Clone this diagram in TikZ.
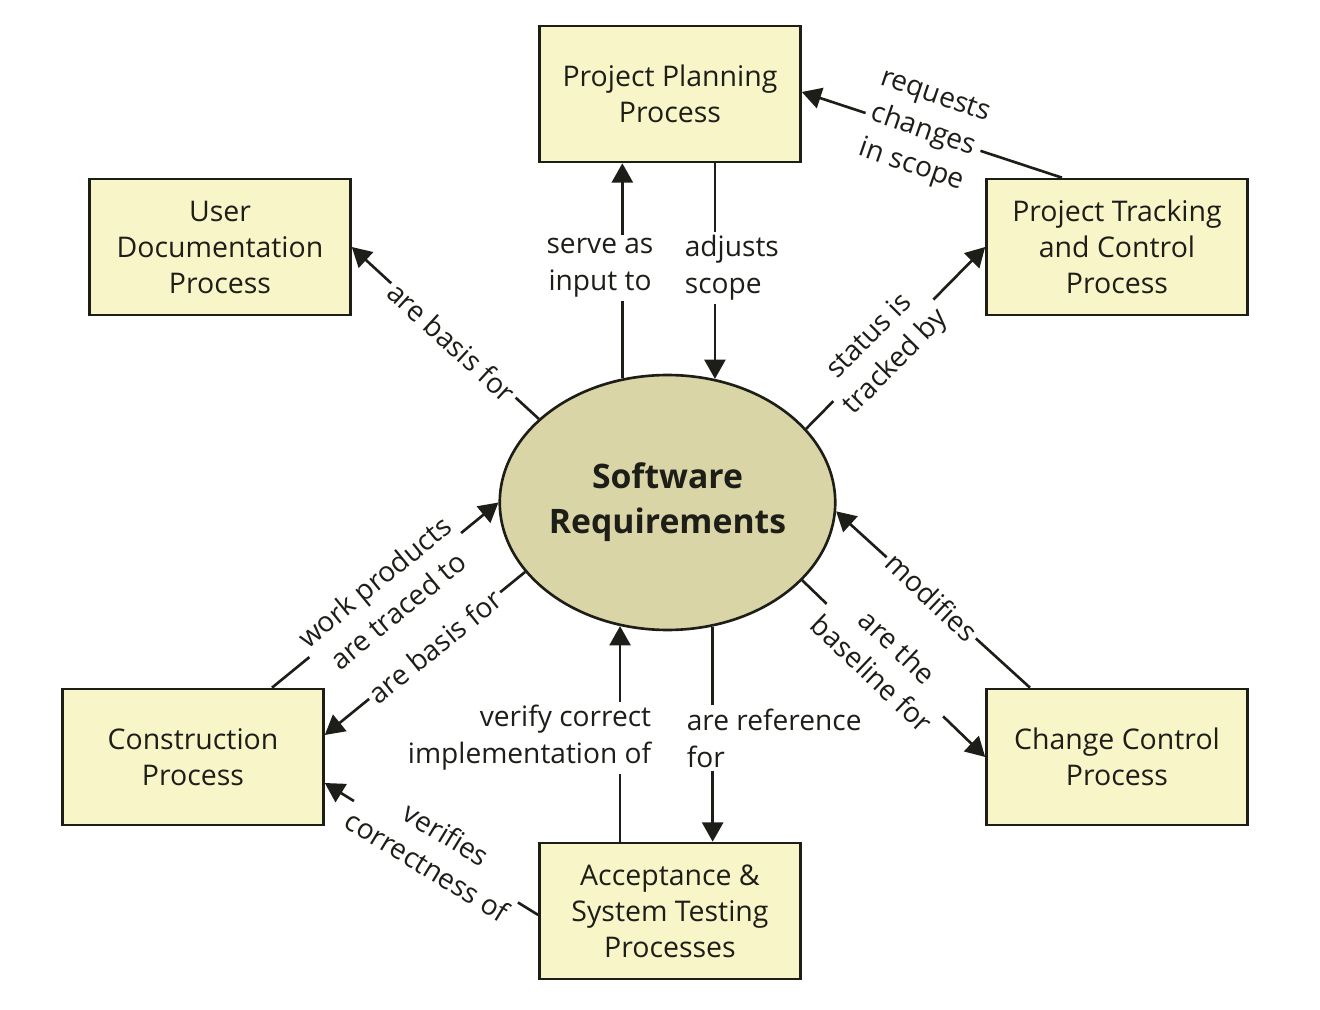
\documentclass[tikz,border=0pt]{standalone}
\usepackage{fontspec}
\setmainfont{Open Sans}
\usetikzlibrary{arrows.meta,calc,shapes.geometric}
\definecolor{boxfill}{RGB}{248,245,200}
\definecolor{reqfill}{RGB}{217,213,166}
\definecolor{ink}{RGB}{30,30,25}
\begin{document}
\begin{tikzpicture}[x={(0.02cm,0)},y={(0,-0.02cm)},
    proc/.style={draw=ink, line width=1.5pt, fill=boxfill, minimum width=5.22cm, minimum height=2.72cm,
      align=center, text=ink, font=\fontsize{16.2}{20.5}\selectfont},
    reqs/.style={ellipse, draw=ink, line width=1.5pt, fill=reqfill, minimum width=6.7cm, minimum height=5.1cm,
      inner sep=0pt, align=center, text=ink, font=\fontsize{19.2}{25.5}\selectfont\bfseries},
    conn/.style={draw=ink, line width=1.5pt},
    arr/.style={conn, -{Triangle[length=11pt,width=12pt]}},
    lbl/.style={fill=white, inner sep=2pt, align=center, text=ink, font=\fontsize{16}{21}\selectfont}]
    \useasboundingbox (0,0) rectangle (1320,1010);
    % center
    \node[reqs] (req) at (667.5,502.5) {Software\\Requirements};
    % processes
    \node[proc] (plan)  at (670,94)   {Project Planning\\Process};
    \node[proc] (udoc)  at (220,247)  {User\\Documentation\\Process};
    \node[proc] (track) at (1117,247) {Project Tracking\\and Control\\Process};
    \node[proc] (cons)  at (193,757)  {Construction\\Process};
    \node[proc] (chg)   at (1117,757) {Change Control\\Process};
    \node[proc] (acc)   at (670,911)  {Acceptance \&\\System Testing\\Processes};
    % vertical links
    \draw[arr] (req.110.35) -- (req.110.35 |- plan.south);
    \draw[arr] (req.69.65 |- plan.south) -- (req.69.65);
    \draw[arr] (req.249.65 |- acc.north) -- (req.249.65);
    \draw[arr] (req.290.35) -- (req.290.35 |- acc.north);
    % diagonal links
    \draw[arr] (req.147.7) -- (udoc.east);
    \draw[arr] (req.28.4) -- (track.west);
    \draw[arr] ($(track.north)+(-55,0)$) -- ($(plan.east)+(0,-2)$);
    \draw[arr] ($(chg.north)+(-87,0)$) -- (req.-3);
    \draw[arr] (req.-30.6) -- (chg.west);
    \draw[arr] ($(cons.north)+(79,0)$) -- (req.180);
    \draw[arr] (req.206.3) -- ($(cons.east)+(0,-22)$);
    \draw[arr] ($(acc.west)+(0,4)$) -- ($(cons.east)+(0,26)$);
    % labels
    \node[lbl] (lserve) at (600,268) {serve as\\input to};
    \node[lbl, align=left, anchor=west] (ladj) at (681,268) {adjusts\\scope};
    \node[lbl, align=right, anchor=east] (lverify) at (655,738) {verify correct\\implementation of};
    \node[lbl, align=left, anchor=west] (lref) at (683,738) {are reference\\for};
    \node[lbl, rotate=-42.6] (lbasisu) at (452,342) {are basis for};
    \node[lbl, rotate=45.2] (lstatus) at (883,350) {status is\\tracked by};
    \node[lbl, rotate=-19] (lreq) at (923,132) {requests\\changes\\in scope};
    \node[lbl, rotate=-43.5] (lmod) at (932,597) {modifies};
    \node[lbl, rotate=-43.4] (lbase) at (885,660) {are the\\baseline for};
    \node[lbl, rotate=39.4] (lwork) at (386,596) {work products\\are traced to};
    \node[lbl, rotate=38.9] (lbasisc) at (435,646) {are basis for};
    \node[lbl, rotate=-31.4] (lveri) at (437,850) {verifies\\correctness of};
\end{tikzpicture}
\end{document}
